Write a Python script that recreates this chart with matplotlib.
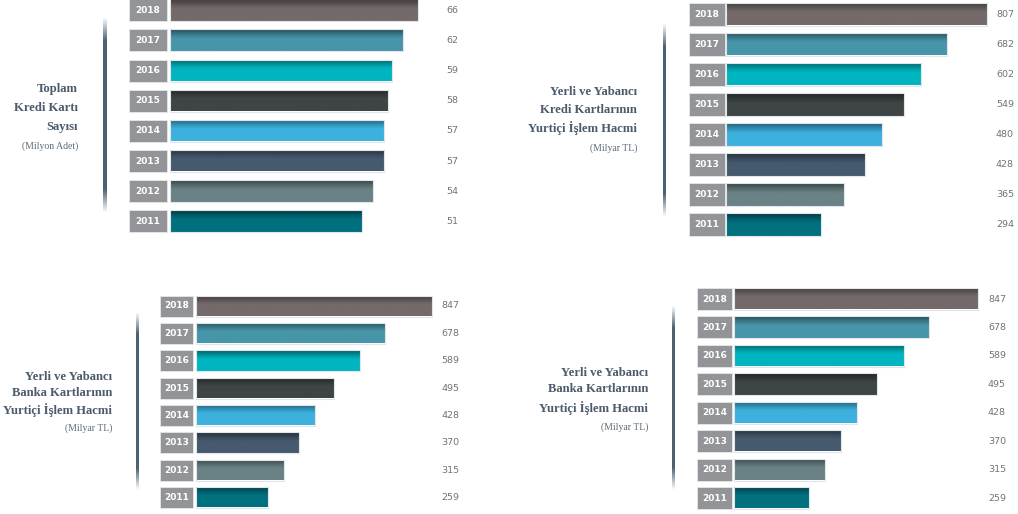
import numpy as np
import matplotlib
matplotlib.use("Agg")
import matplotlib.pyplot as plt
from matplotlib.patches import Rectangle
from matplotlib.colors import to_rgb

W, H = 1018, 514

years = ["2018", "2017", "2016", "2015", "2014", "2013", "2012", "2011"]
kredi_karti_sayisi = [66, 62, 59, 58, 57, 57, 54, 51]
kredi_islem_hacmi = [807, 682, 602, 549, 480, 428, 365, 294]
banka_islem_hacmi = [847, 678, 589, 495, 428, 370, 315, 259]

year_colors = ["#746a69", "#4795a8", "#00b5c0", "#3e4544",
               "#3db1de", "#455a6e", "#6a8285", "#00707f"]

titles = [
    ["Toplam", "Kredi Kartı", "Sayısı"],
    ["Yerli ve Yabancı", "Kredi Kartlarının", "Yurtiçi İşlem Hacmi"],
    ["Yerli ve Yabancı", "Banka Kartlarının", "Yurtiçi İşlem Hacmi"],
    ["Yerli ve Yabancı", "Banka Kartlarının", "Yurtiçi İşlem Hacmi"],
]
subtitles = ["(Milyon Adet)", "(Milyar TL)", "(Milyar TL)", "(Milyar TL)"]
panel_values = [kredi_karti_sayisi, kredi_islem_hacmi, banka_islem_hacmi, banka_islem_hacmi]

# layout in pixels: year box, bar start, px per unit, label x, first row centre, row pitch, bar height
layouts = [
    dict(box=(129, 167), start=170, scale=3.76, label=452, c0=10.3, pitch=30.17, bh=22,
         title_x=78, title_y=[89, 108, 127, 146], vline=(104, 17, 213)),
    dict(box=(689, 725), start=726, scale=0.324, label=1005, c0=14.5, pitch=30.07, bh=23,
         title_x=637, title_y=[92, 110, 128, 148], vline=(664, 23, 217)),
    dict(box=(160, 193), start=196, scale=0.2786, label=450, c0=306, pitch=27.36, bh=21,
         title_x=112, title_y=[377, 393, 410, 428], vline=(137, 312, 490)),
    dict(box=(697, 732), start=734, scale=0.288, label=997, c0=299, pitch=28.43, bh=22,
         title_x=648, title_y=[373, 389, 408, 427], vline=(673, 305, 490)),
]

fig = plt.figure(figsize=(W / 100, H / 100), dpi=100)
fig.patch.set_facecolor("white")


def fx(x):
    return x / W


def fy(y):
    return 1 - y / H


def shaded(color, n=40):
    # vertical gradient: darker at the top edge of the bar
    rgb = np.array(to_rgb(color))
    t = np.linspace(0, 1, n)
    k = 0.55 + 0.45 * np.clip(t / 0.4, 0, 1) ** 0.8
    return (rgb[None, :] * k[:, None])[:, None, :]


def draw_panel(values, lay, title, sub):
    left_px = lay["box"][0]
    right_px = lay["label"] + 20
    top_px = lay["c0"] - lay["pitch"] / 2
    bottom_px = lay["c0"] + 7.5 * lay["pitch"]
    ax = fig.add_axes([fx(left_px), fy(bottom_px),
                       (right_px - left_px) / W, (bottom_px - top_px) / H])
    xlim = ((left_px - lay["start"]) / lay["scale"], (right_px - lay["start"]) / lay["scale"])
    ax.axis("off")

    h = lay["bh"] / lay["pitch"]
    bars = ax.barh(np.arange(len(years)), values, height=h, left=0, color="none",
                   edgecolor="#dfe5e8", linewidth=0.8, zorder=3)
    inset = 0.03 * h
    for i, (v, c) in enumerate(zip(values, year_colors)):
        ax.imshow(shaded(c), extent=(0, v, i + h / 2 - inset, i - h / 2 + inset),
                  aspect="auto", interpolation="bilinear", zorder=2)

    box_x0 = (lay["box"][0] - lay["start"]) / lay["scale"]
    box_w = (lay["box"][1] - lay["box"][0]) / lay["scale"]
    for i, yr in enumerate(years):
        ax.add_patch(Rectangle((box_x0, i - h / 2), box_w, h, facecolor="#929497",
                               edgecolor="#e6e7e8", linewidth=0.6, clip_on=False))
        ax.text(box_x0 + box_w / 2, i, yr, ha="center", va="center", fontsize=6.5,
                fontweight="bold", color="white", clip_on=False)
        ax.text((lay["label"] - lay["start"]) / lay["scale"], i, str(values[i]),
                ha="center", va="center", fontsize=6.8, color="#707275", clip_on=False)
    ax.set_xlim(*xlim)
    ax.set_ylim(7.5, -0.5)

    for line, ty in zip(title, lay["title_y"]):
        fig.text(fx(lay["title_x"]), fy(ty), line, ha="right", va="center",
                 fontsize=9.1, fontweight="bold", family="Liberation Serif", color="#4b5b6b")
    fig.text(fx(lay["title_x"]), fy(lay["title_y"][3]), sub, ha="right", va="center",
             fontsize=7.0, family="Liberation Serif", color="#5d6b78")

    # vertical divider with faded ends
    vx, vy0, vy1 = lay["vline"]
    vax = fig.add_axes([fx(vx - 1.5), fy(vy1), 3 / W, (vy1 - vy0) / H])
    vax.axis("off")
    t = np.linspace(0, 1, 200)
    alpha = np.clip(np.minimum(t, 1 - t) / 0.12, 0, 1)
    grad = np.zeros((200, 1, 4))
    grad[..., :3] = to_rgb("#4a6272")
    grad[:, 0, 3] = alpha
    vax.imshow(grad, aspect="auto", extent=(0, 1, 0, 1), interpolation="bilinear")


for values, lay, title, sub in zip(panel_values, layouts, titles, subtitles):
    draw_panel(values, lay, title, sub)

fig.savefig("out.png", dpi=100, facecolor="white")
